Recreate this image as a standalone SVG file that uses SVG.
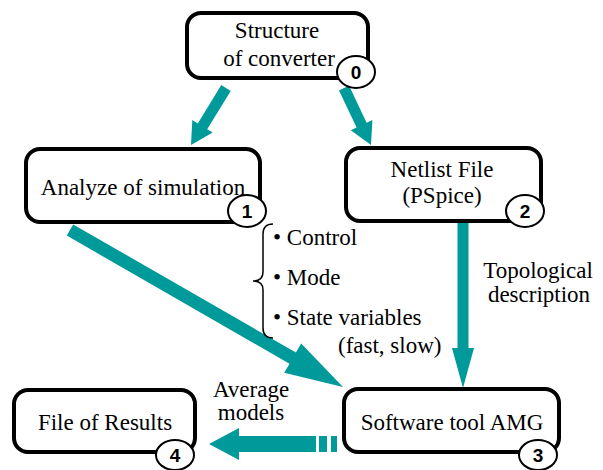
<svg xmlns="http://www.w3.org/2000/svg" width="603" height="470" viewBox="0 0 603 470">
<style>
.box{fill:#fff;stroke:#000;stroke-width:4}
.num{fill:#fff;stroke:#000;stroke-width:2}
.t{font-family:'Liberation Serif','Times New Roman','Tinos','DejaVu Serif',serif;font-size:23px;fill:#000}
.c{text-anchor:middle}
.n{font-family:'Liberation Sans',Arial,sans-serif;font-size:19px;font-weight:bold;text-anchor:middle;fill:#000}
.arr{fill:#009a9a;stroke:none}
</style>
<rect width="603" height="470" fill="#fff"/>
<g id="connectors">
<polygon class="arr" points="230.7,90.9 207.2,129.2 212.7,132.6 191,145 192.3,120.0 197.8,123.4 221.3,85.1"/>
<polygon class="arr" points="349.0,85.6 366.6,122.7 372.4,120.0 371,145 350.8,130.2 356.6,127.5 339.0,90.4"/>
<polygon class="arr" points="73.2,224.4 295.9,352.5 301.2,343.4 343,387 284.2,372.8 289.5,363.7 66.8,235.6"/>
<polygon class="arr" points="457.5,222 468.5,222 468.5,348 474,348 463,388 452,348 457.5,348"/>
<polygon class="arr" points="209,444 239,428 239,436 316,436 316,452 239,452 239,460"/>
<rect class="arr" x="319" y="436" width="8" height="16"/>
<rect class="arr" x="331" y="436" width="6" height="16"/>
</g>
<g id="node0">
<rect class="box" x="187" y="13" width="181" height="65" rx="14"/>
<text class="t c" x="277" y="38" font-family="Liberation Serif, serif">Structure</text>
<text class="t c" x="279" y="66">of converter</text>
<ellipse class="num" cx="356" cy="72" rx="19" ry="16"/>
<text class="n" x="356" y="79">0</text>
</g>
<g id="node1">
<rect class="box" x="26" y="149" width="234" height="73" rx="14"/>
<text class="t c" x="143" y="195">Analyze of simulation</text>
<ellipse class="num" cx="247" cy="211" rx="19" ry="16"/>
<text class="n" x="247" y="218">1</text>
</g>
<g id="node2">
<rect class="box" x="346" y="148" width="195" height="73" rx="14"/>
<text class="t c" x="442" y="177">Netlist File</text>
<text class="t c" x="442" y="203">(PSpice)</text>
<ellipse class="num" cx="525" cy="211" rx="19" ry="16"/>
<text class="n" x="525" y="218">2</text>
</g>
<g id="node3">
<rect class="box" x="344" y="389" width="215" height="63" rx="14"/>
<text class="t c" x="452" y="430">Software tool AMG</text>
<ellipse class="num" cx="538" cy="455" rx="19" ry="15"/>
<text class="n" x="538" y="462">3</text>
</g>
<g id="node4">
<rect class="box" x="14" y="390" width="181" height="62" rx="14"/>
<text class="t c" x="105" y="430">File of Results</text>
<ellipse class="num" cx="175" cy="455" rx="19" ry="15"/>
<text class="n" x="175" y="462">4</text>
</g>
<g id="labels">
<path d="M273,224 Q263,224 263,234 L263,272 Q263,281 253,281 Q263,281 263,290 L263,328 Q263,338 273,338" fill="none" stroke="#000" stroke-width="1.5"/>
<text class="t" x="273" y="245">• Control</text>
<text class="t" x="273" y="285">• Mode</text>
<text class="t" x="273" y="325">• State variables</text>
<text class="t" x="338" y="353">(fast, slow)</text>
<text class="t c" x="538" y="278">Topological</text>
<text class="t c" x="539" y="302">description</text>
<text class="t c" x="251" y="397">Average</text>
<text class="t c" x="251" y="420">models</text>
</g>
</svg>
